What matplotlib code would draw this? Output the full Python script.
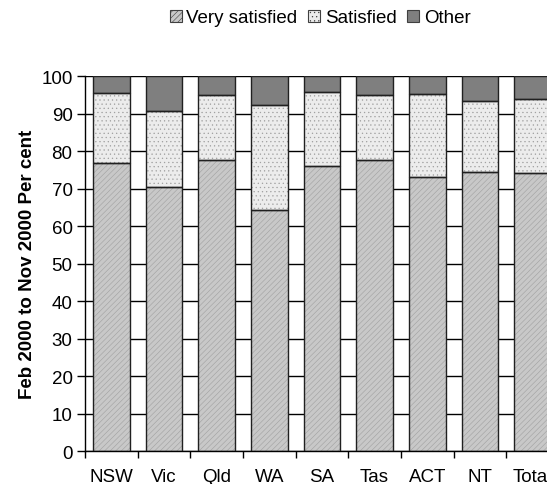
import matplotlib.pyplot as plt
import numpy as np

plt.rcParams["font.family"] = ["Liberation Sans", "DejaVu Sans"]
plt.rcParams["hatch.linewidth"] = 0.4

states = ["NSW", "Vic", "Qld", "WA", "SA", "Tas", "ACT", "NT", "Total"]
very_satisfied = [77.0, 70.6, 77.7, 64.3, 76.0, 77.6, 73.2, 74.6, 74.2]
satisfied_top = [95.5, 90.7, 95.1, 92.3, 95.8, 95.0, 95.2, 93.4, 94.0]
satisfied = [t - v for t, v in zip(satisfied_top, very_satisfied)]
other = [100 - t for t in satisfied_top]

series = [
    ("Very satisfied", very_satisfied, "#c8c8c8", "//////"),
    ("Satisfied", satisfied, "#ececec", "...."),
    ("Other", other, "#7f7f7f", None),
]

fs = 13.5

fig = plt.figure(figsize=(5.47, 4.85), dpi=100)
ax = fig.add_axes([0.1554, 0.0674, 0.8664, 0.7732])

x = np.arange(len(states))
width = 0.7
bottom = np.zeros(len(states))
handles = []
for name, vals, color, hatch in series:
    vals = np.array(vals)
    # filled, hatched body with a soft hatch colour
    ax.bar(x, vals, width, bottom=bottom, color=color, hatch=hatch,
           edgecolor="#a0a0a0" if hatch else color, linewidth=0, zorder=2)
    # dark outline on top
    ax.bar(x, vals, width, bottom=bottom, facecolor="none",
           edgecolor="#202020", linewidth=1.0, zorder=3)
    h = plt.Rectangle((0, 0), 1, 1, facecolor=color, hatch=hatch,
                      edgecolor="#404040", linewidth=0.8)
    handles.append(h)
    bottom += vals

ax.set_xlim(-0.5, len(states) - 0.5)
ax.set_ylim(0, 100)
ax.set_yticks(np.arange(0, 101, 10))
ax.yaxis.grid(True, color="black", linewidth=1.0, zorder=0)
ax.set_axisbelow(True)

ax.set_xticks(x)
ax.set_xticklabels(states, fontsize=fs)
ax.tick_params(axis="x", length=0, pad=12)
ax.set_xticks(np.arange(-0.5, len(states), 1), minor=True)
ax.tick_params(axis="x", which="minor", length=5, width=1, color="black")
ax.tick_params(axis="y", length=6, width=1, labelsize=fs, pad=3)

for side in ("top", "right"):
    ax.spines[side].set_visible(False)
for side in ("left", "bottom"):
    ax.spines[side].set_linewidth(1.0)
    ax.spines[side].set_color("black")

ax.set_ylabel("Feb 2000 to Nov 2000 Per cent", fontsize=fs,
              fontweight="bold", labelpad=4)

fig.legend(handles, [s[0] for s in series], loc="center",
           bbox_to_anchor=(0.585, 0.961), ncol=3, frameon=False,
           fontsize=fs, handlelength=0.65, handleheight=0.65,
           handletextpad=0.25, columnspacing=0.55)

fig.savefig("out.png", dpi=100)
